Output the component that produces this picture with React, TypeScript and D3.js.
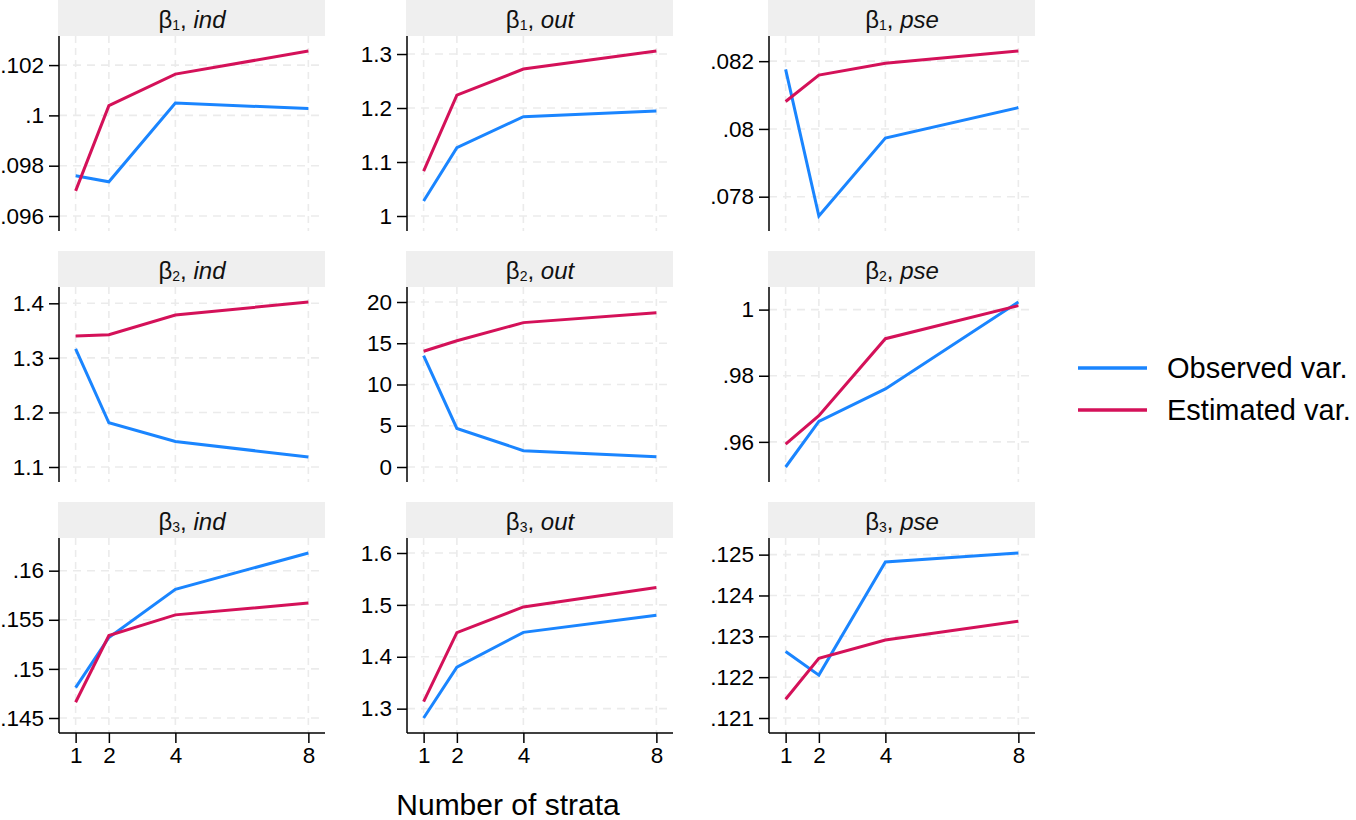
import { useEffect, useRef } from "react";
import * as d3 from "d3";

// x values (number of strata)
const strata = [1, 2, 4, 8];

// panel labels
const paramSubs = ["1", "2", "3"];
const models = ["ind", "out", "pse"];

// series values per panel (observed / estimated variance)
const obsB1Ind = [0.0976, 0.09736, 0.10049, 0.10027];
const estB1Ind = [0.097, 0.10039, 0.10164, 0.10256];
const obsB1Out = [1.0278, 1.1265, 1.184, 1.1944];
const estB1Out = [1.0833, 1.224, 1.2722, 1.3056];
const obsB1Pse = [0.08176, 0.07743, 0.07973, 0.08063];
const estB1Pse = [0.08081, 0.08159, 0.08194, 0.0823];

const obsB2Ind = [1.3165, 1.181, 1.1467, 1.1184];
const estB2Ind = [1.34, 1.3425, 1.3785, 1.4024];
const obsB2Out = [13.5, 4.67, 1.98, 1.25];
const estB2Out = [14.03, 15.3, 17.5, 18.7];
const obsB2Pse = [0.9524, 0.9662, 0.976, 1.0023];
const estB2Pse = [0.9593, 0.9679, 0.9912, 1.0012];

const obsB3Ind = [0.1481, 0.1532, 0.1581, 0.1618];
const estB3Ind = [0.1466, 0.1534, 0.1555, 0.1567];
const obsB3Out = [1.282, 1.38, 1.447, 1.48];
const estB3Out = [1.3135, 1.4465, 1.496, 1.5334];
const obsB3Pse = [0.12263, 0.12205, 0.12482, 0.12504];
const estB3Pse = [0.12146, 0.12246, 0.12291, 0.12337];

// y tick values per panel
const ticksB1Ind = [0.096, 0.098, 0.1, 0.102];
const ticksB1Out = [1, 1.1, 1.2, 1.3];
const ticksB1Pse = [0.078, 0.08, 0.082];
const ticksB2Ind = [1.1, 1.2, 1.3, 1.4];
const ticksB2Out = [0, 5, 10, 15, 20];
const ticksB2Pse = [0.96, 0.98, 1];
const ticksB3Ind = [0.145, 0.15, 0.155, 0.16];
const ticksB3Out = [1.3, 1.4, 1.5, 1.6];
const ticksB3Pse = [0.121, 0.122, 0.123, 0.124, 0.125];

const seriesNames = ["Observed var.", "Estimated var."];
const seriesColors = ["#1a85ff", "#d41159"];

const panels = [
  [obsB1Ind, estB1Ind, ticksB1Ind], [obsB1Out, estB1Out, ticksB1Out], [obsB1Pse, estB1Pse, ticksB1Pse],
  [obsB2Ind, estB2Ind, ticksB2Ind], [obsB2Out, estB2Out, ticksB2Out], [obsB2Pse, estB2Pse, ticksB2Pse],
  [obsB3Ind, estB3Ind, ticksB3Ind], [obsB3Out, estB3Out, ticksB3Out], [obsB3Pse, estB3Pse, ticksB3Pse],
];

const FONT = "'Liberation Sans', Arial, Helvetica, sans-serif";

const App: React.FC = () => {
  const svgRef = useRef<SVGSVGElement | null>(null);

  useEffect(() => {
    if (!svgRef.current) return;
    const svg = d3.select(svgRef.current);
    svg.selectAll("*").remove();

    const colLeft = [59, 407, 769];
    const rowTop = [0, 251, 502];
    const plotW = 266;
    const headerH = 36;
    const plotH = 195;
    const inset = 15;

    const fmt = (v: number) => String(+v.toFixed(6)).replace(/^0\./, ".");

    panels.forEach((p, i) => {
      const r = Math.floor(i / 3);
      const c = i % 3;
      const [obs, est, ticks] = p;
      const left = colLeft[c];
      const top = rowTop[r];
      const pTop = top + headerH;
      const pBot = pTop + plotH;

      const g = svg.append("g");

      // header strip
      g.append("rect")
        .attr("x", left - 1)
        .attr("y", top)
        .attr("width", plotW + 1)
        .attr("height", headerH)
        .attr("fill", "#efefef");

      const title = g.append("text")
        .attr("x", left + plotW / 2)
        .attr("y", top + 28)
        .attr("text-anchor", "middle")
        .style("font-family", FONT)
        .style("font-size", "24px")
        .attr("fill", "#111");
      title.append("tspan").text("β");
      title.append("tspan").attr("dy", 2).style("font-size", "14px").text(paramSubs[r]);
      title.append("tspan").attr("dy", -2).text(", ");
      title.append("tspan").style("font-style", "italic").text(models[c]);

      const x = d3.scaleLinear().domain([0.5, 8.5]).range([left, left + plotW]);
      const ext = d3.extent([...obs, ...est, ...ticks]) as [number, number];
      const y = d3.scaleLinear().domain(ext).range([pBot - inset, pTop + inset]);

      // grid
      g.selectAll(".hgrid")
        .data(ticks)
        .enter()
        .append("line")
        .attr("x1", left)
        .attr("x2", left + plotW)
        .attr("y1", d => y(d))
        .attr("y2", d => y(d))
        .attr("stroke", "#ebebeb")
        .attr("stroke-width", 1.6)
        .attr("stroke-dasharray", "8,6");

      g.selectAll(".vgrid")
        .data(strata)
        .enter()
        .append("line")
        .attr("x1", d => x(d))
        .attr("x2", d => x(d))
        .attr("y1", pTop)
        .attr("y2", pBot)
        .attr("stroke", "#ebebeb")
        .attr("stroke-width", 1.6)
        .attr("stroke-dasharray", "7,5");

      // lines
      const line = d3.line<number>()
        .x((_, k) => x(strata[k]))
        .y(d => y(d));

      [obs, est].forEach((s, k) => {
        g.append("path")
          .datum(s)
          .attr("d", line)
          .attr("fill", "none")
          .attr("stroke", seriesColors[k])
          .attr("stroke-width", 3);
      });

      // y axis
      const yAxis = g.append("g")
        .attr("transform", `translate(${left},0)`)
        .call(d3.axisLeft(y).tickValues(ticks).tickFormat(d => fmt(+d)).tickSize(10).tickPadding(5));
      yAxis.select(".domain").remove();
      yAxis.append("line")
        .attr("x1", 0).attr("x2", 0)
        .attr("y1", pTop).attr("y2", pBot)
        .attr("stroke", "#000").attr("stroke-width", 1.5);
      yAxis.selectAll(".tick line").attr("stroke", "#000").attr("stroke-width", 1.5);
      yAxis.selectAll("text")
        .style("font-family", FONT)
        .style("font-size", "22.5px")
        .attr("fill", "#000");

      // x axis on bottom row only
      if (r === 2) {
        const xAxis = g.append("g")
          .attr("transform", `translate(0,${pBot})`)
          .call(d3.axisBottom(x).tickValues(strata).tickFormat(d => String(d)).tickSize(10).tickPadding(4));
        xAxis.select(".domain").remove();
        xAxis.append("line")
          .attr("x1", left).attr("x2", left + plotW)
          .attr("y1", 0).attr("y2", 0)
          .attr("stroke", "#000").attr("stroke-width", 1.5);
        xAxis.selectAll(".tick line").attr("stroke", "#000").attr("stroke-width", 1.5);
        xAxis.selectAll("text")
          .style("font-family", FONT)
          .style("font-size", "22.5px")
          .attr("fill", "#000");
      }
    });

    // x axis title
    svg.append("text")
      .attr("x", 508)
      .attr("y", 815)
      .attr("text-anchor", "middle")
      .style("font-family", FONT)
      .style("font-size", "30px")
      .attr("fill", "#000")
      .text("Number of strata");

    // legend
    const legend = svg.append("g");
    seriesNames.forEach((name, k) => {
      const ly = 368 + k * 42;
      legend.append("line")
        .attr("x1", 1078).attr("x2", 1147)
        .attr("y1", ly).attr("y2", ly)
        .attr("stroke", seriesColors[k])
        .attr("stroke-width", 3.5);
      legend.append("text")
        .attr("x", 1167)
        .attr("y", ly + 10)
        .style("font-family", FONT)
        .style("font-size", "29px")
        .attr("fill", "#000")
        .text(name);
    });
  }, []);

  return (
    <div style={{ position: "absolute", left: 0, top: 0, background: "#fff" }}>
      <svg ref={svgRef} width={1356} height={820} style={{ display: "block" }}></svg>
    </div>
  );
};

export default App;
